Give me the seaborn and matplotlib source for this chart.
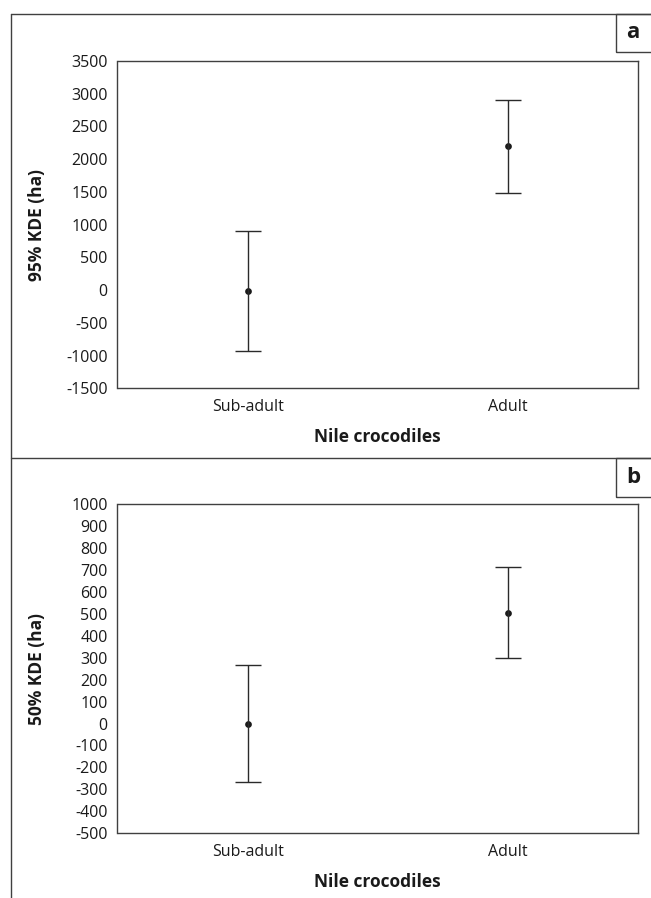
import numpy as np
import pandas as pd
import matplotlib.pyplot as plt
import seaborn as sns
from matplotlib.lines import Line2D
from matplotlib.patches import Rectangle

# ------------------------------------------------------------
# DATA (mean home range and error half-widths)
# ------------------------------------------------------------
groups = ["Sub-adult", "Adult"]

kde95_mean = [-10, 2200]
kde95_err = [920, 710]

kde50_mean = [0, 505]
kde50_err = [268, 208]

panels = [
    ("a", "95% KDE (ha)", kde95_mean, kde95_err, (-1500, 3500), 500),
    ("b", "50% KDE (ha)", kde50_mean, kde50_err, (-500, 1000), 100),
]

# ------------------------------------------------------------
# STYLE
# ------------------------------------------------------------
sns.set_theme(style="white")
plt.rcParams["font.family"] = ["Open Sans", "DejaVu Sans"]
plt.rcParams["axes.unicode_minus"] = False

W, H = 651, 898
fig = plt.figure(figsize=(W / 100, H / 100), dpi=100)
line_col = "#404040"
text_col = "#1a1a1a"


def px(x, y):
    # pixel coords (top-left origin) -> figure fraction
    return x / W, 1 - y / H


# axes boxes in pixels: left, top, right, bottom
boxes = [(117.5, 61, 638, 388.3), (117.5, 504, 638, 833.3)]

for (label, ylab, mean, err, ylim, step), (l, t, r, b) in zip(panels, boxes):
    x0, y0 = px(l, b)
    x1, y1 = px(r, t)
    ax = fig.add_axes([x0, y0, x1 - x0, y1 - y0])

    df = pd.DataFrame({"group": groups, "mean": mean, "err": err})
    sns.pointplot(data=df, x="group", y="mean", errorbar=None,
                  linestyle="none", color=text_col, marker="o",
                  markersize=2.8, ax=ax)
    ax.errorbar(np.arange(len(groups)), df["mean"], yerr=df["err"],
                fmt="none", ecolor="#2a2a2a", elinewidth=1.0,
                capsize=9.5, capthick=1.0)

    ax.set_xlim(-0.5, len(groups) - 0.5)
    ax.set_ylim(*ylim)
    ax.set_yticks(np.arange(ylim[0], ylim[1] + step, step))
    ax.tick_params(axis="both", length=0, labelsize=11.5, colors=text_col)
    ax.tick_params(axis="y", pad=7)
    ax.tick_params(axis="x", pad=8)
    for s in ax.spines.values():
        s.set_visible(True)
        s.set_color(line_col)
        s.set_linewidth(1.0)

    # axis titles, placed by pixel offset from the plot box
    ax.set_xlabel("Nile crocodiles", fontsize=12.5, fontweight="bold",
                  color=text_col, va="center")
    ax.xaxis.set_label_coords(0.5, -49 / (b - t), transform=ax.transAxes)
    ax.set_ylabel(ylab, fontsize=12.5, fontweight="bold", color=text_col,
                  va="center")
    ax.yaxis.set_label_coords(-(l - 37) / (r - l), 0.5, transform=ax.transAxes)

# ------------------------------------------------------------
# OUTER FRAME AND PANEL LETTERS
# ------------------------------------------------------------
frame = [
    ((11, 14), (11, 898)),
    ((11, 14), (651, 14)),
    ((11, 458), (651, 458)),
]
for p0, p1 in frame:
    (xa, ya), (xb, yb) = px(*p0), px(*p1)
    fig.add_artist(Line2D([xa, xb], [ya, yb], color=line_col, lw=1.0))

for letter, top, bot in [("a", 14, 52), ("b", 458, 497)]:
    xa, ya = px(616, bot)
    xb, yb = px(655, top)
    fig.add_artist(Rectangle((xa, ya), xb - xa, yb - ya, fill=False,
                             edgecolor=line_col, lw=1.0))
    cx, cy = px(633, (top + bot) / 2)
    fig.text(cx, cy, letter, fontsize=16, fontweight="bold",
             ha="center", va="center", color=text_col)

fig.savefig("out.png", dpi=100)
